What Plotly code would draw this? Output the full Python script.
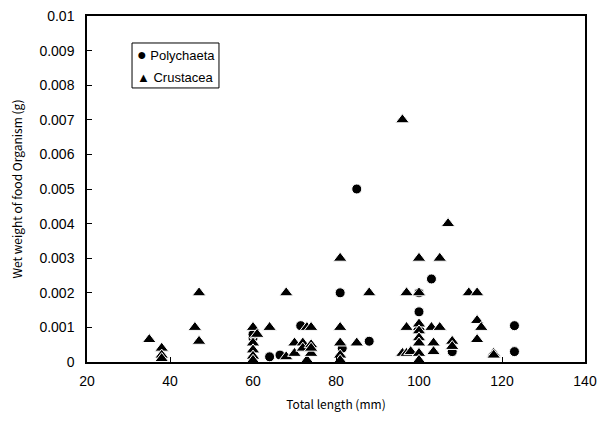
import plotly.graph_objects as go

# Polychaeta (circles)
poly_x = [60, 60, 64, 66.5, 71.5, 74, 81, 81.5, 85, 88, 100, 100, 103, 108, 123, 123]
poly_y = [0.0007, 0.0008, 0.00015, 0.0002, 0.00105, 0.0004, 0.002, 0.0004, 0.005, 0.0006,
          0.00145, 0.002, 0.0024, 0.0003, 0.00105, 0.0003]

# Crustacea (triangles)
crus_x = [35, 38, 38, 38, 46, 47, 47,
          60, 60, 60, 60, 60, 61, 64, 68, 68,
          70, 70, 72, 72, 73, 74, 73, 74, 74, 74,
          81, 81, 81, 81, 81, 85, 88,
          96, 96, 97, 97, 97, 98, 100, 100, 100, 100, 100, 100, 100, 100, 100,
          103, 103.5, 103.5, 105, 105, 107, 108, 108,
          112, 114, 114, 115, 114, 118, 118]
crus_y = [0.00065, 0.0004, 0.0002, 0.0001, 0.001, 0.0006, 0.002,
          0.001, 0.00055, 0.00035, 0.00017, 0.00005, 0.0008, 0.001, 0.00015, 0.002,
          0.00055, 0.00025, 0.00055, 0.0004, 0.001, 0.001, 0.00005, 0.0005, 0.00025, 0.0004,
          0.003, 0.001, 0.00055, 0.0002, 0.00005, 0.00055, 0.002,
          0.007, 0.00025, 0.002, 0.001, 0.00025, 0.0003, 0.003, 0.002, 0.001, 0.0011, 0.0009, 0.0007, 0.00055, 0.00025, 0.00005,
          0.001, 0.00055, 0.0003, 0.003, 0.001, 0.004, 0.0006, 0.00045,
          0.002, 0.002, 0.0012, 0.001, 0.00065, 0.00025, 0.0002]

x_ticks = [20, 40, 60, 80, 100, 120, 140]
y_ticks = [0, 0.001, 0.002, 0.003, 0.004, 0.005, 0.006, 0.007, 0.008, 0.009, 0.01]
y_ticktext = ["0", "0.001", "0.002", "0.003", "0.004", "0.005", "0.006", "0.007", "0.008", "0.009", "0.01"]
legend_labels = ["Polychaeta", "Crustacea"]

fig = go.Figure()
fig.add_trace(go.Scatter(
    x=poly_x, y=poly_y, mode="markers", name=legend_labels[0],
    marker=dict(symbol="circle", size=10, color="black", line=dict(color="white", width=1)),
))
fig.add_trace(go.Scatter(
    x=crus_x, y=crus_y, mode="markers", name=legend_labels[1],
    marker=dict(symbol="triangle-up", size=12, color="black", line=dict(color="white", width=1)),
))

axis_common = dict(
    showgrid=False, zeroline=False, showline=True, linecolor="black", linewidth=1.5,
    mirror=True, ticks="inside", ticklen=5, tickwidth=1, tickcolor="black",
    automargin=False, ticklabeloverflow="allow",
    tickfont=dict(family="Liberation Sans, Arial", size=14, color="black"),
)

# The page body has an 8px margin, so margins are shifted to compensate.
fig.update_layout(
    width=607, height=422,
    margin=dict(l=79, r=30, t=8, b=68),
    paper_bgcolor="white", plot_bgcolor="white",
    showlegend=False,
    xaxis=dict(range=[20, 140], tickvals=x_ticks, ticklabelstandoff=5,
               title=dict(text="Total length (mm)", standoff=13,
                          font=dict(family="Noto Sans CJK JP", size=12, color="black")),
               **axis_common),
    yaxis=dict(range=[0, 0.01], tickvals=y_ticks, ticktext=y_ticktext, ticklabelstandoff=8,
               title=dict(text="Wet weight of food Organism (g)", standoff=15,
                          font=dict(family="Noto Sans CJK JP", size=12, color="black")),
               **axis_common),
)

# legend box drawn as shape + text
fig.add_shape(type="rect", xref="paper", yref="paper", x0=0.0904, x1=0.265, y0=0.792, y1=0.922,
              line=dict(color="black", width=1), fillcolor="white", layer="above")
fig.add_annotation(xref="paper", yref="paper", x=0.096, y=0.890, xanchor="left", yanchor="middle",
                   text="<span style='font-size:16px'>●</span> " + legend_labels[0], showarrow=False,
                   font=dict(family="Liberation Sans, Arial", size=13, color="black"))
fig.add_annotation(xref="paper", yref="paper", x=0.096, y=0.822, xanchor="left", yanchor="middle",
                   text="▲ " + legend_labels[1], showarrow=False,
                   font=dict(family="Liberation Sans, Arial", size=13, color="black"))

fig.write_html("out.html")
